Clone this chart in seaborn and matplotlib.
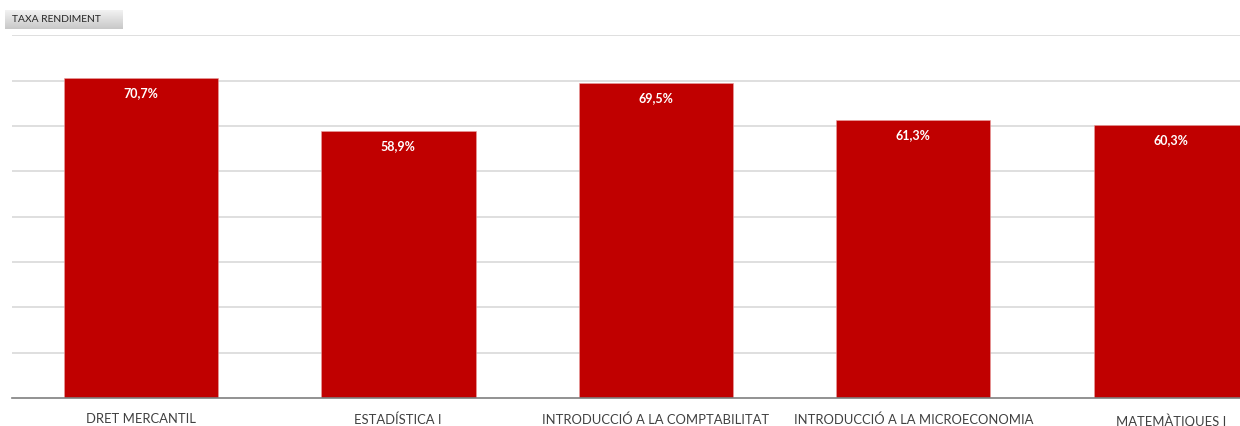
import matplotlib
matplotlib.use("Agg")
import matplotlib.pyplot as plt
import numpy as np
import pandas as pd
import seaborn as sns

categories = ["DRET MERCANTIL", "ESTADÍSTICA I", "INTRODUCCIÓ A LA COMPTABILITAT",
              "INTRODUCCIÓ A LA MICROECONOMIA", "MATEMÀTIQUES I"]
values = [70.7, 58.9, 69.5, 61.3, 60.3]
title = "TAXA RENDIMENT"

sns.set_theme(style="white")
plt.rcParams['font.family'] = ['Lato', 'DejaVu Sans']

W, H = 1240, 426
fig = plt.figure(figsize=(W / 100, H / 100), dpi=100)
fig.patch.set_facecolor("white")

left_px, base_px, top_px = 12, 398, 35.5
cat_px = 257.5
ax_w_px = W - left_px
ax = fig.add_axes([left_px / W, (H - base_px) / H, ax_w_px / W, (base_px - top_px) / H])

df = pd.DataFrame({"cat": categories, "val": values})
sns.barplot(data=df, x="cat", y="val", color="#C00000", saturation=1, width=0.6, ax=ax,
            edgecolor="#e8a0a0", linewidth=0.4, zorder=3)

ax.set_xlim(-0.5, -0.5 + ax_w_px / cat_px)
ax.set_ylim(0, 80)
ax.set_yticks(np.arange(10, 81, 10))
ax.yaxis.grid(True, color="#d9d9d9", linewidth=1.2, zorder=0)
ax.set_axisbelow(True)
ax.tick_params(axis="y", left=False, labelleft=False)
ax.tick_params(axis="x", bottom=False, length=0, pad=11, labelsize=9.4, labelcolor="#404040")
ax.set_xlabel("")
ax.set_ylabel("")
for s in ["top", "right", "left"]:
    ax.spines[s].set_visible(False)
ax.spines["bottom"].set_color("#7f7f7f")
ax.spines["bottom"].set_linewidth(1.2)
ax.spines["bottom"].set_zorder(5)

for i, v in enumerate(values):
    ax.annotate(f"{v:.1f}".replace(".", ",") + "%", xy=(i, v), xytext=(0, -11),
                textcoords="offset points", ha="center", va="center",
                color="white", fontsize=9, fontweight="bold", zorder=6)

# field button
bax = fig.add_axes([5 / W, (H - 29) / H, 118 / W, 19 / H])
grad = np.linspace(0, 1, 50).reshape(-1, 1)
bax.imshow(grad, aspect="auto", cmap=matplotlib.colors.LinearSegmentedColormap.from_list(
    "g", ["#f2f2f2", "#c8c8c8"]), extent=[0, 1, 0, 1], origin="upper")
bax.set_xlim(0, 1)
bax.set_ylim(0, 1)
bax.axis("off")
bax.text(0.06, 0.5, title, ha="left", va="center", fontsize=7.4, color="#262626")

fig.savefig("out.png", dpi=100)
